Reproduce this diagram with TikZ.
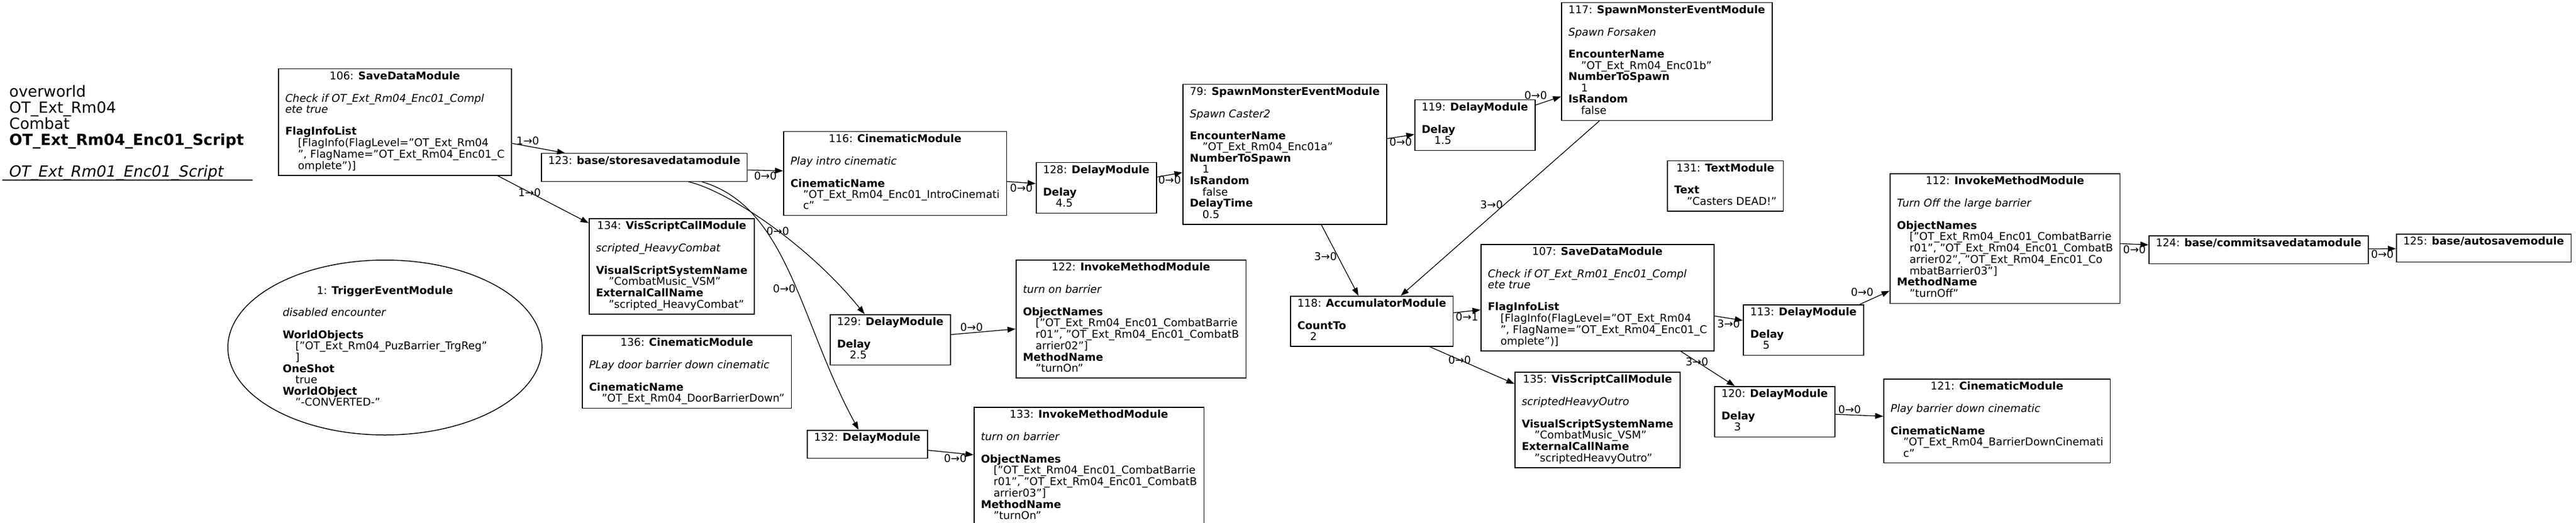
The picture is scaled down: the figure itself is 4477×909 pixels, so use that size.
\documentclass[tikz,border=0pt]{standalone}
\usepackage{fontspec}
\setmainfont{DejaVu Sans}
\usetikzlibrary{arrows.meta,shapes.geometric}

\newcommand{\fields}[1]{\begin{tabular}{@{}l@{}}#1\end{tabular}}
\newcommand{\modhead}[2]{\multicolumn{1}{@{}c@{}}{#1: \textbf{#2}}}
\newcommand{\val}{\hspace*{22pt}}

\begin{document}
\begin{tikzpicture}[x=1pt,y=-1pt]
        \tikzstyle{module}=[draw,shape=rectangle,anchor=north west,line width=1.5pt,inner xsep=12pt,inner ysep=5pt,font=\fontsize{18.6}{18.8}\selectfont];
        \tikzstyle{trigger}=[draw,shape=ellipse,line width=1.5pt,minimum width=546pt,minimum height=304pt,inner sep=0pt,font=\fontsize{18.6}{18.8}\selectfont];
        \tikzstyle{flow}=[line width=1.3pt,-{Triangle[length=14pt,width=10pt]}];
        \tikzstyle{lbl}=[font=\fontsize{18.6}{18.8}\selectfont,inner sep=1.5pt];
        \useasboundingbox (0,0) rectangle (4477,909);
        %script title
        \node[anchor=north west,inner sep=0pt,font=\fontsize{26.7}{26.7}\selectfont] (ttl) at (16,148) {\fields{overworld\\ OT\_Ext\_Rm04\\ Combat\\ \textbf{OT\_Ext\_Rm04\_Enc01\_Script}\\ \\ \textit{OT\_Ext\_Rm01\_Enc01\_Script}}};
        \draw[line width=1.5pt] (4,313) -- (439,313);
        %modules
        \node[module] (n106) at (483,119) {\fields{\modhead{106}{SaveDataModule}\\ \\
            \textit{Check if OT\_Ext\_Rm04\_Enc01\_Compl}\\ \textit{ete true}\\ \\
            \textbf{FlagInfoList}\\ \val[FlagInfo(FlagLevel="OT\_Ext\_Rm04\\ \val", FlagName="OT\_Ext\_Rm04\_Enc01\_C\\ \val omplete")]}};
        \node[module] (n123) at (940,266) {\fields{\modhead{123}{base/storesavedatamodule}\\ \\}};
        \node[module] (n116) at (1361,228) {\fields{\modhead{116}{CinematicModule}\\ \\
            \textit{Play intro cinematic}\\ \\
            \textbf{CinematicName}\\ \val"OT\_Ext\_Rm04\_Enc01\_IntroCinemati\\ \val c"}};
        \node[module] (n128) at (1800,282) {\fields{\modhead{128}{DelayModule}\\ \\ \textbf{Delay}\\ \val 4.5}};
        \node[module] (n79) at (2055,146) {\fields{\modhead{79}{SpawnMonsterEventModule}\\ \\
            \textit{Spawn Caster2}\\ \\
            \textbf{EncounterName}\\ \val"OT\_Ext\_Rm04\_Enc01a"\\
            \textbf{NumberToSpawn}\\ \val 1\\
            \textbf{IsRandom}\\ \val false\\
            \textbf{DelayTime}\\ \val 0.5}};
        \node[module] (n119) at (2458,173) {\fields{\modhead{119}{DelayModule}\\ \\ \textbf{Delay}\\ \val 1.5}};
        \node[module] (n117) at (2713,4) {\fields{\modhead{117}{SpawnMonsterEventModule}\\ \\
            \textit{Spawn Forsaken}\\ \\
            \textbf{EncounterName}\\ \val"OT\_Ext\_Rm04\_Enc01b"\\
            \textbf{NumberToSpawn}\\ \val 1\\
            \textbf{IsRandom}\\ \val false}};
        \node[module] (n131) at (2897,279) {\fields{\modhead{131}{TextModule}\\ \\ \textbf{Text}\\ \val"Casters DEAD!"}};
        \node[module] (n134) at (1023,379) {\fields{\modhead{134}{VisScriptCallModule}\\ \\
            \textit{scripted\_HeavyCombat}\\ \\
            \textbf{VisualScriptSystemName}\\ \val"CombatMusic\_VSM"\\
            \textbf{ExternalCallName}\\ \val"scripted\_HeavyCombat"}};
        \node[module] (n136) at (1011,582) {\fields{\modhead{136}{CinematicModule}\\ \\
            \textit{PLay door barrier down cinematic}\\ \\
            \textbf{CinematicName}\\ \val"OT\_Ext\_Rm04\_DoorBarrierDown"}};
        \node[trigger] (n1) at (669,604) {\fields{\modhead{1}{TriggerEventModule}\\ \\
            \textit{disabled encounter}\\ \\
            \textbf{WorldObjects}\\ \val["OT\_Ext\_Rm04\_PuzBarrier\_TrgReg"\\ \val]\\
            \textbf{OneShot}\\ \val true\\
            \textbf{WorldObject}\\ \val"-CONVERTED-"}};
        \node[module] (n129) at (1442,546) {\fields{\modhead{129}{DelayModule}\\ \\ \textbf{Delay}\\ \val 2.5}};
        \node[module] (n122) at (1765,451) {\fields{\modhead{122}{InvokeMethodModule}\\ \\
            \textit{turn on barrier}\\ \\
            \textbf{ObjectNames}\\ \val["OT\_Ext\_Rm04\_Enc01\_CombatBarrie\\ \val r01", "OT\_Ext\_Rm04\_Enc01\_CombatB\\ \val arrier02"]\\
            \textbf{MethodName}\\ \val"turnOn"}};
        \node[module] (n132) at (1402,747) {\fields{\modhead{132}{DelayModule}\\ \\}};
        \node[module] (n133) at (1692,707) {\fields{\modhead{133}{InvokeMethodModule}\\ \\
            \textit{turn on barrier}\\ \\
            \textbf{ObjectNames}\\ \val["OT\_Ext\_Rm04\_Enc01\_CombatBarrie\\ \val r01", "OT\_Ext\_Rm04\_Enc01\_CombatB\\ \val arrier03"]\\
            \textbf{MethodName}\\ \val"turnOn"}};
        \node[module] (n118) at (2242,514) {\fields{\modhead{118}{AccumulatorModule}\\ \\ \textbf{CountTo}\\ \val 2}};
        \node[module] (n107) at (2573,424) {\fields{\modhead{107}{SaveDataModule}\\ \\
            \textit{Check if OT\_Ext\_Rm01\_Enc01\_Compl}\\ \textit{ete true}\\ \\
            \textbf{FlagInfoList}\\ \val[FlagInfo(FlagLevel="OT\_Ext\_Rm04\\ \val", FlagName="OT\_Ext\_Rm04\_Enc01\_C\\ \val omplete")]}};
        \node[module] (n135) at (2632,646) {\fields{\modhead{135}{VisScriptCallModule}\\ \\
            \textit{scriptedHeavyOutro}\\ \\
            \textbf{VisualScriptSystemName}\\ \val"CombatMusic\_VSM"\\
            \textbf{ExternalCallName}\\ \val"scriptedHeavyOutro"}};
        \node[module] (n113) at (3029,529) {\fields{\modhead{113}{DelayModule}\\ \\ \textbf{Delay}\\ \val 5}};
        \node[module] (n120) at (2979,671) {\fields{\modhead{120}{DelayModule}\\ \\ \textbf{Delay}\\ \val 3}};
        \node[module] (n112) at (3284,301) {\fields{\modhead{112}{InvokeMethodModule}\\ \\
            \textit{Turn Off the large barrier}\\ \\
            \textbf{ObjectNames}\\ \val["OT\_Ext\_Rm04\_Enc01\_CombatBarrie\\ \val r01", "OT\_Ext\_Rm04\_Enc01\_CombatB\\ \val arrier02", "OT\_Ext\_Rm04\_Enc01\_Co\\ \val mbatBarrier03"]\\
            \textbf{MethodName}\\ \val"turnOff"}};
        \node[module] (n121) at (3273,658) {\fields{\modhead{121}{CinematicModule}\\ \\
            \textit{Play barrier down cinematic}\\ \\
            \textbf{CinematicName}\\ \val"OT\_Ext\_Rm04\_BarrierDownCinemati\\ \val c"}};
        \node[module] (n124) at (3734,409) {\fields{\modhead{124}{base/commitsavedatamodule}\\ \\}};
        \node[module] (n125) at (4164,406) {\fields{\modhead{125}{base/autosavemodule}\\ \\}};
        %links
        \draw[flow] (n106) -- node[lbl,pos=0.3,above] {1→0} (n123);
        \draw[flow] (n106) -- node[lbl,pos=0.35] {1→0} (n134);
        \draw[flow] (n123) -- node[lbl,below] {0→0} (n116);
        \draw[flow] (n123.-18) .. controls (1260,330) and (1400,420) .. node[lbl,pos=0.55] {0→0} (n129.135);
        \draw[flow] (n123.-14) .. controls (1370,360) and (1390,560) .. node[lbl,pos=0.55,left] {0→0} (n132.121);
        \draw[flow] (n116) -- node[lbl,below] {0→0} (n128);
        \draw[flow] (n128) -- node[lbl,below] {0→0} (n79);
        \draw[flow] (n79) -- node[lbl,below] {0→0} (n119);
        \draw[flow] (n119) -- node[lbl,above left] {0→0} (n117);
        \draw[flow] (n79) -- node[lbl,pos=0.45,left] {3→0} (n118);
        \draw[flow] (n117) -- node[lbl,pos=0.48,left] {3→0} (n118);
        \draw[flow] (n129) -- node[lbl,pos=0.32,above] {0→0} (n122);
        \draw[flow] (n132) -- node[lbl,pos=0.6,below] {0→0} (n133);
        \draw[flow] (n118) -- node[lbl,below] {0→1} (n107);
        \draw[flow] (n118) -- node[lbl,pos=0.35] {0→0} (n135);
        \draw[flow] (n107) -- node[lbl,below] {3→0} (n113);
        \draw[flow] (n107) -- node[lbl,pos=0.3] {3→0} (n120);
        \draw[flow] (n113) -- node[lbl,above left] {0→0} (n112);
        \draw[flow] (n120) -- node[lbl,pos=0.3,above] {0→0} (n121);
        \draw[flow] (n112) -- node[lbl,below] {0→0} (n124);
        \draw[flow] (n124) -- node[lbl,below] {0→0} (n125);
    \end{tikzpicture}
\end{document}
